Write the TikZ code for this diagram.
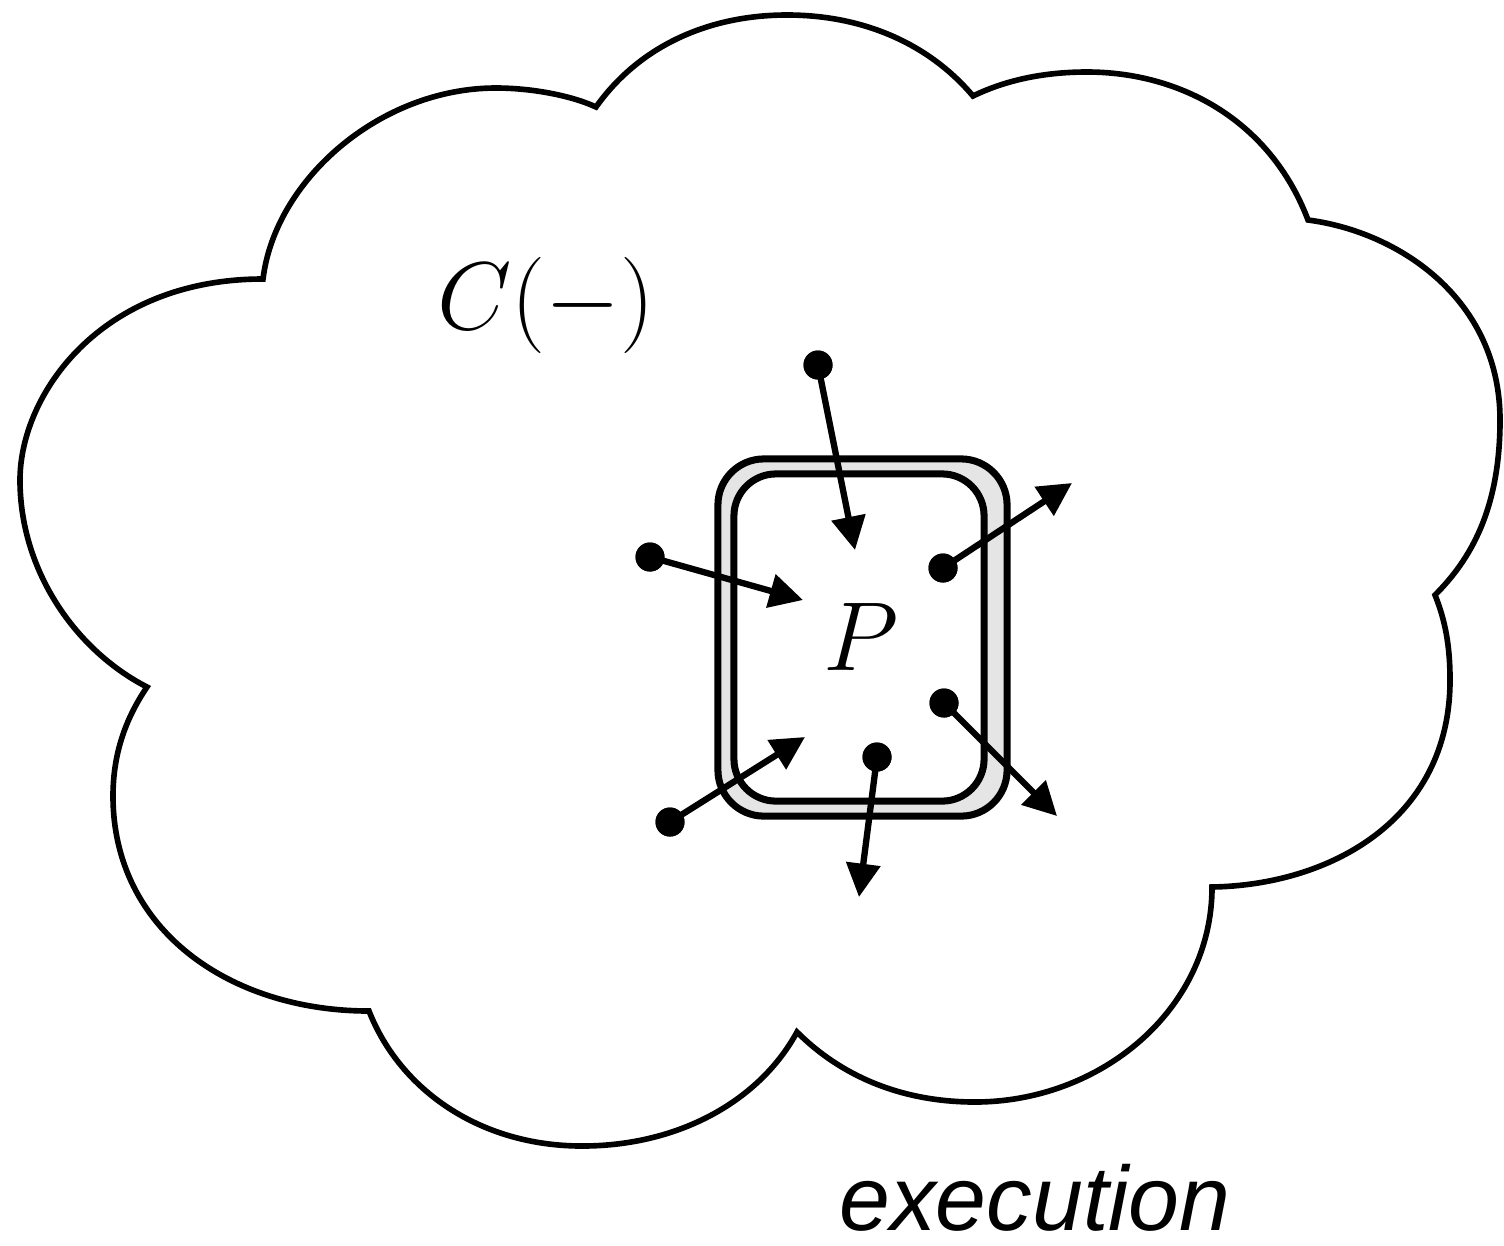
\documentclass[tikz,border=0pt]{standalone}
\usepackage{fontspec}
\newfontfamily\labelfont{Liberation Sans}
\usetikzlibrary{arrows.meta}
\begin{document}
\begin{tikzpicture}[x=0.01cm,y=-0.01cm,
  cloudline/.style={draw=black, line width=1.6pt, line join=miter, fill=white},
  outerbox/.style={draw=black, line width=2pt, rounded corners=0.46cm, fill=gray!20, inner sep=0, minimum width=2.89cm, minimum height=3.57cm},
  innerbox/.style={draw=black, line width=2pt, rounded corners=0.42cm, fill=white, inner sep=0, minimum width=2.50cm, minimum height=3.27cm},
  dot/.style={circle, fill=black, inner sep=0, minimum size=0.29cm},
  arr/.style={line width=1.8pt, -{Triangle[length=9.5pt,width=9.5pt]}},
  txt/.style={inner sep=0}]
\useasboundingbox (0,0) rectangle (1504,1245);
% cloud
\path[cloudline] (147,687)
 .. controls (75,650) and (20,570) .. (20,480)
 .. controls (20,395) and (100,279) .. (263,279)
 .. controls (275,180) and (380,88) .. (496,88)
 .. controls (530,88) and (570,95) .. (596,107)
 .. controls (640,45) and (710,15) .. (787,15)
 .. controls (865,15) and (930,45) .. (973,96)
 .. controls (1010,78) and (1050,72) .. (1087,72)
 .. controls (1180,72) and (1270,120) .. (1308,220)
 .. controls (1400,232) and (1500,300) .. (1500,420)
 .. controls (1500,510) and (1470,560) .. (1435,595)
 .. controls (1445,620) and (1450,645) .. (1450,680)
 .. controls (1450,820) and (1330,885) .. (1212,887)
 .. controls (1212,1010) and (1100,1102) .. (975,1102)
 .. controls (900,1102) and (840,1075) .. (797,1032)
 .. controls (760,1100) and (680,1146) .. (582,1146)
 .. controls (480,1146) and (400,1090) .. (369,1011)
 .. controls (230,1011) and (113,930) .. (113,796)
 .. controls (113,750) and (128,715) .. cycle;
% process box
\node[outerbox] (outer) at (862.5,637.5) {};
\node[innerbox] (inner) at (859,637.5) {};
% labels
\node[txt, scale=1.1, font=\fontsize{24.88}{30}\selectfont] (C) at (546,305) {$C(-)$};
\node[txt, anchor=base, scale=1.12, font=\fontsize{24.88}{30}\selectfont] (P) at (861,670) {$P$};
\node[txt, anchor=base, font=\labelfont\itshape\fontsize{26}{30}\selectfont] (exec) at (1035,1230) {execution};
% dots and tips
\node[dot] (d1) at (818,365) {};
\node[dot] (d2) at (650,557) {};
\node[dot] (d3) at (670,822) {};
\node[dot] (d4) at (877,757) {};
\node[dot] (d5) at (944,703) {};
\node[dot] (d6) at (943,568) {};
\coordinate (t1) at (855,550);
\coordinate (t2) at (803,600);
\coordinate (t3) at (805,737);
\coordinate (t4) at (859,897);
\coordinate (t5) at (1057,816);
\coordinate (t6) at (1072,483);
\draw[arr] (d1.center) -- (t1);
\draw[arr] (d2.center) -- (t2);
\draw[arr] (d3.center) -- (t3);
\draw[arr] (d4.center) -- (t4);
\draw[arr] (d5.center) -- (t5);
\draw[arr] (d6.center) -- (t6);
\node[dot] at (d1) {};
\node[dot] at (d2) {};
\node[dot] at (d3) {};
\node[dot] at (d4) {};
\node[dot] at (d5) {};
\node[dot] at (d6) {};
\end{tikzpicture}
\end{document}
